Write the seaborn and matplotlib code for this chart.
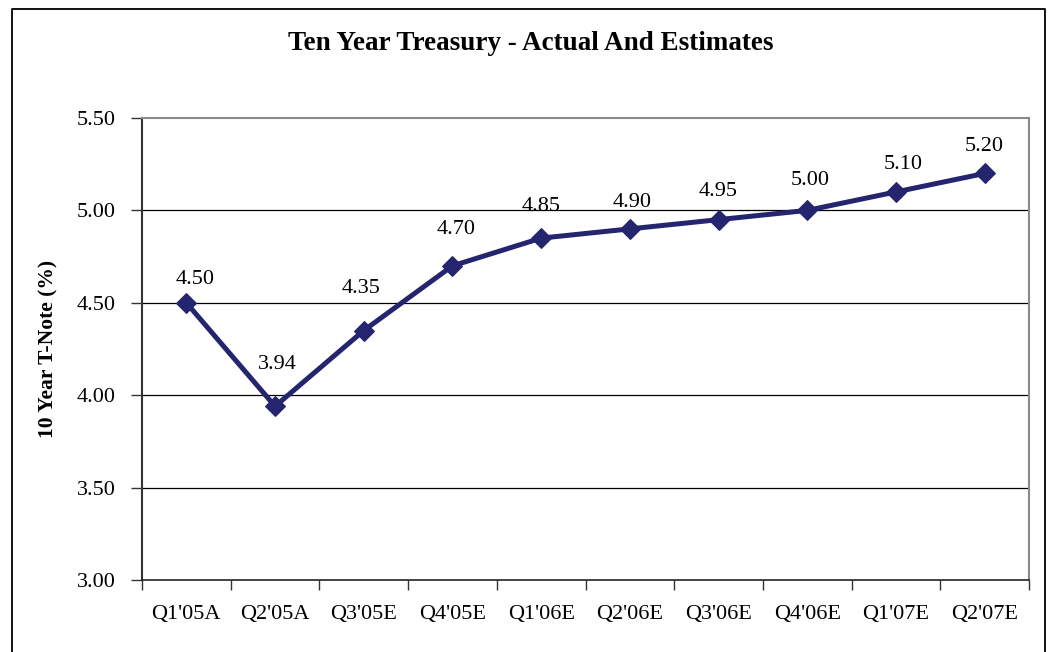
import matplotlib
matplotlib.use("Agg")
import matplotlib.pyplot as plt
from matplotlib.lines import Line2D
from matplotlib.ticker import FixedLocator, NullFormatter
import seaborn as sns
import pandas as pd

quarters = ["Q1'05A", "Q2'05A", "Q3'05E", "Q4'05E", "Q1'06E",
            "Q2'06E", "Q3'06E", "Q4'06E", "Q1'07E", "Q2'07E"]
yields = [4.50, 3.94, 4.35, 4.70, 4.85, 4.90, 4.95, 5.00, 5.10, 5.20]
y_ticks = [3.00, 3.50, 4.00, 4.50, 5.00, 5.50]

# value-label placement relative to each marker, in points (dx, dy)
label_dx = [6, 1.5, -2, 3, 0, 1.5, 0, 2, 5, 0]
label_dy = [16.5, 30, 30, 26.5, 23, 19, 20, 21.5, 20, 19.5]

sns.set_theme(style="white")
plt.rcParams["font.family"] = ["Liberation Serif", "DejaVu Serif"]
plt.rcParams["text.color"] = "black"
plt.rcParams["axes.labelcolor"] = "black"
plt.rcParams["xtick.color"] = "black"
plt.rcParams["ytick.color"] = "black"

navy = "#24246F"
df = pd.DataFrame({"pos": range(len(quarters)), "quarter": quarters, "yield": yields})

fig = plt.figure(figsize=(10.48, 6.52), dpi=100)
ax = fig.add_axes([142 / 1048, 72 / 652, (1029 - 142) / 1048, (580 - 118) / 652])

sns.lineplot(data=df, x="pos", y="yield", ax=ax, color=navy, linewidth=3.6,
             marker="D", markersize=10.5, markeredgecolor=navy,
             markerfacecolor=navy, zorder=3)

for x, v, dx, dy in zip(df["pos"], df["yield"], label_dx, label_dy):
    ax.annotate(f"{v:.2f}", (x, v), xytext=(dx, dy), textcoords="offset points",
                ha="center", va="center", fontsize=16, color="black")

ax.set_xlim(-0.5, len(quarters) - 0.5)
ax.set_ylim(3.0, 5.5)
ax.set_yticks(y_ticks)
ax.set_yticklabels([f"{t:.2f}" for t in y_ticks])
ax.set_xticks(df["pos"])
ax.set_xticklabels(quarters)
ax.xaxis.set_minor_locator(FixedLocator([p - 0.5 for p in df["pos"]] + [len(quarters) - 0.5]))
ax.xaxis.set_minor_formatter(NullFormatter())

ax.tick_params(axis="x", which="major", length=0, pad=18, labelsize=16,
               labelcolor="black")
ax.tick_params(axis="x", which="minor", length=7, width=1, color="#333333",
               direction="out", bottom=True)
ax.tick_params(axis="y", which="major", length=8, width=1, color="#333333",
               direction="out", left=True, pad=11, labelsize=16,
               labelcolor="black")

for y in y_ticks[1:-1]:
    ax.axhline(y, color="black", linewidth=0.9, zorder=1)

ax.spines["left"].set_color("#333333")
ax.spines["left"].set_linewidth(1.5)
ax.spines["bottom"].set_color("#222222")
ax.spines["bottom"].set_linewidth(1.2)
ax.spines["top"].set_color("#8a8a8a")
ax.spines["top"].set_linewidth(1.5)
ax.spines["right"].set_color("#8a8a8a")
ax.spines["right"].set_linewidth(1.5)

ax.set_xlabel("")
ax.set_ylabel("10 Year T-Note (%)", fontsize=15.5, fontweight="bold")
ax.yaxis.set_label_coords(-0.094, 0.5)

fig.text(0.506, 1 - 43 / 652, "Ten Year Treasury - Actual And Estimates",
         ha="center", va="center", fontsize=19.5, fontweight="bold")

# chart frame (open at the bottom)
x0, x1, y1 = 11.5 / 1048, 1044.5 / 1048, 1 - 8.5 / 652
frame = Line2D([x0, x0, x1, x1], [-0.05, y1, y1, -0.05], transform=fig.transFigure,
               color="black", linewidth=1.3)
fig.add_artist(frame)

fig.savefig("out.png", dpi=100, facecolor="white")
